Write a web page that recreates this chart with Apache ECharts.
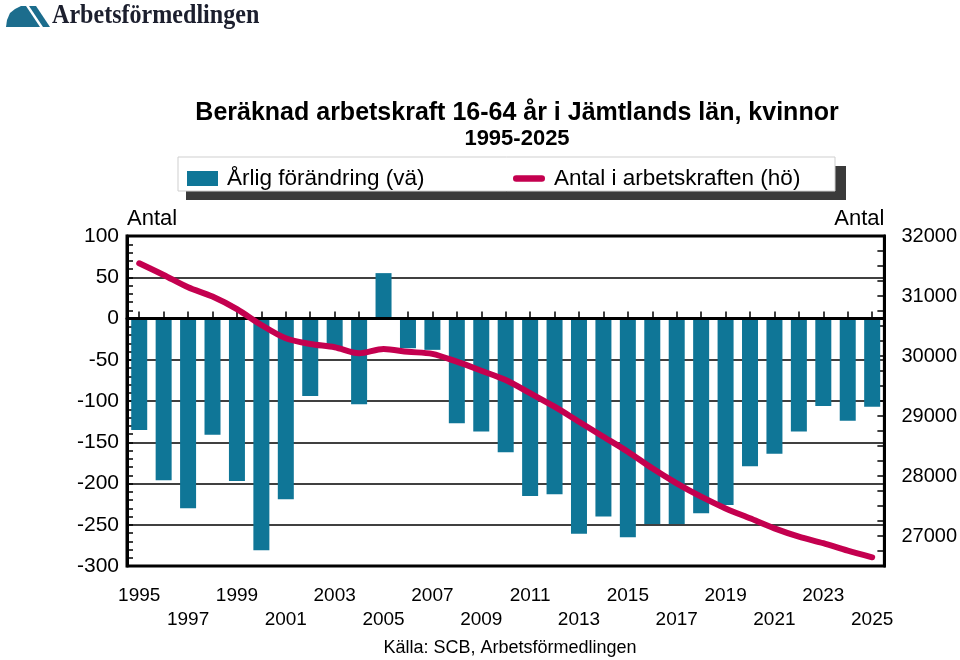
<!DOCTYPE html>
<html>
<head>
<meta charset="utf-8">
<script src="https://cdn.jsdelivr.net/npm/echarts@6/dist/echarts.min.js"></script>
<style>
html,body{margin:0;padding:0;background:#fff;}
#c{width:960px;height:660px;}
</style>
</head>
<body>
<div id="c"></div>
<script>
const years = ['1995','1996','1997','1998','1999','2000','2001','2002','2003','2004','2005','2006','2007','2008','2009','2010','2011','2012','2013','2014','2015','2016','2017','2018','2019','2020','2021','2022','2023','2024','2025'];
const annualChange = [-135,-196,-230,-141,-197,-281,-219,-94,-36,-104,55,-36,-38,-127,-137,-162,-215,-213,-261,-240,-265,-249,-249,-236,-226,-179,-164,-137,-106,-124,-107];
const laborForce = [31545,31350,31145,30990,30780,30517,30295,30200,30145,30045,30115,30070,30035,29905,29755,29600,29380,29155,28905,28655,28405,28128,27878,27655,27460,27295,27128,26990,26880,26755,26645];
const leftTicks = [-300,-250,-200,-150,-100,-50,0,50,100];
const rightTicks = [27000,28000,29000,30000,31000,32000];

const FONT = 'Liberation Sans, Arial, sans-serif';
const BAR = '#0f7697';
const LINE = '#c4004f';

const chart = echarts.init(document.getElementById('c'), null, {renderer:'canvas'});
chart.setOption({
  animation:false,
  backgroundColor:'#fff',
  textStyle:{fontFamily:FONT,color:'#000'},
  title:{
    text:'Beräknad arbetskraft 16-64 år i Jämtlands län, kvinnor',
    subtext:'1995-2025',
    left:512, top:96, textAlign:'center', itemGap:2,
    textStyle:{fontFamily:FONT,fontSize:25,fontWeight:'bold',color:'#000'},
    subtextStyle:{fontFamily:FONT,fontSize:22,fontWeight:'bold',color:'#000'}
  },
  legend:[
    {data:['Årlig förändring (vä)'], left:187, top:167, itemWidth:31, itemHeight:15, itemGap:0,
     icon:'rect', textStyle:{fontFamily:FONT,fontSize:22.5,color:'#000',padding:[0,0,0,4]}, padding:0},
    {data:['Antal i arbetskraften (hö)'], left:513, top:167, itemWidth:32, itemHeight:15, itemGap:0,
     icon:'path://M4,5 L28,5 A3,3 0 0 1 28,11 L4,11 A3,3 0 0 1 4,5 Z',
     textStyle:{fontFamily:FONT,fontSize:22.5,color:'#000',padding:[0,0,0,4]}, padding:0}
  ],
  graphic:[
    {type:'rect', z:-10, shape:{x:186,y:166,width:660,height:34}, style:{fill:'#3a3a3a'}},
    {type:'rect', z:-9, shape:{x:178,y:157,width:657,height:34}, style:{fill:'#fff',stroke:'#cfcfcf',lineWidth:1}},
    {type:'polygon', shape:{points:[[6,27],[7,20],[10,13],[15,9],[21,6],[26,6],[40,27]]}, style:{fill:'#1c6d8d'}},
    {type:'polygon', shape:{points:[[29,6],[36,6],[50,27],[43,27]]}, style:{fill:'#1c6d8d'}},
    {type:'text', x:52, y:2, scaleX:0.86, style:{text:'Arbetsförmedlingen', font:'bold 28px "Liberation Serif", "DejaVu Serif", serif', fill:'#1c1f2e'}},
    {type:'text', x:510, y:639, style:{text:'Källa: SCB, Arbetsförmedlingen', font:'18px "Liberation Sans", Arial, sans-serif', fill:'#000', textAlign:'center'}}
  ],
  grid:{left:127, right:74, top:236, bottom:94, show:true, borderColor:'#000', borderWidth:3, containLabel:false},
  xAxis:{
    type:'category', data:years,
    axisLine:{show:true, lineStyle:{color:'#000',width:3}},
    axisTick:{show:true, inside:true, alignWithLabel:true, interval:0, length:7, lineStyle:{color:'#000',width:1.5}},
    axisLabel:{interval:1, margin:18, fontFamily:FONT, fontSize:19, color:'#000', lineHeight:24,
      formatter:function(v,i){ return (i%4===0) ? v+'\n ' : ' \n'+v; }},
    splitLine:{show:false}
  },
  yAxis:[
    {type:'value', min:-300, max:100, interval:50, position:'left',
     name:'Antal', nameLocation:'end', nameGap:6,
     nameTextStyle:{fontFamily:FONT,fontSize:22,color:'#000',align:'left',verticalAlign:'bottom'},
     axisLine:{show:true, lineStyle:{color:'#000',width:3}},
     axisTick:{show:true, inside:true, length:6, lineStyle:{color:'#000',width:1.5}},
     minorTick:{show:true, splitNumber:5, length:6, lineStyle:{color:'#000',width:1.5}},
     axisLabel:{margin:8, fontFamily:FONT, fontSize:21, color:'#000',
       formatter:function(v){ return leftTicks.indexOf(v)>=0 ? String(v) : ''; }},
     splitLine:{show:true, lineStyle:{color:'#000',width:1.5}}
    },
    {type:'value', min:26500, max:32000, interval:500, position:'right',
     name:'Antal', nameLocation:'end', nameGap:6,
     nameTextStyle:{fontFamily:FONT,fontSize:22,color:'#000',align:'right',verticalAlign:'bottom'},
     axisLine:{show:true, lineStyle:{color:'#000',width:3}},
     axisTick:{show:true, inside:true, length:7, lineStyle:{color:'#000',width:1.5}},
     minorTick:{show:true, splitNumber:2, length:7, lineStyle:{color:'#000',width:1.5}},
     axisLabel:{margin:17, fontFamily:FONT, fontSize:20, color:'#000',
       formatter:function(v){ return rightTicks.indexOf(v)>=0 ? String(v) : ''; }},
     splitLine:{show:false}
    }
  ],
  series:[
    {name:'Årlig förändring (vä)', type:'bar', yAxisIndex:0, data:annualChange, barWidth:16,
     itemStyle:{color:BAR},
     markLine:{silent:true, symbol:'none', label:{show:false}, lineStyle:{color:'#000',width:3,type:'solid'}, data:[{yAxis:0}]}
    },
    {name:'Antal i arbetskraften (hö)', type:'line', yAxisIndex:1, data:laborForce, smooth:0.3,
     showSymbol:false, symbol:'none', itemStyle:{color:LINE},
     lineStyle:{color:LINE,width:6,cap:'round',join:'round'}, z:5}
  ]
});
</script>
</body>
</html>
